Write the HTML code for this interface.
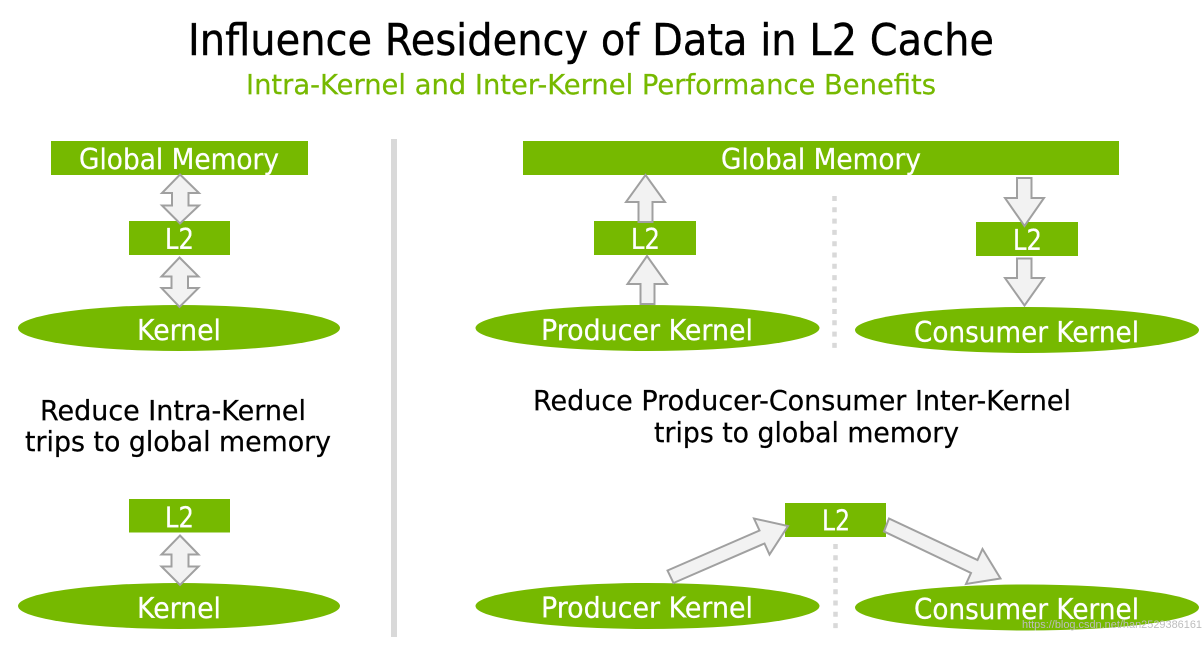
<!DOCTYPE html>
<html><head><meta charset="utf-8"><style>
html,body{margin:0;padding:0;background:#fff;width:1203px;height:650px;overflow:hidden}
svg{display:block}
text{font-family:"DejaVu Sans","Liberation Sans",sans-serif}
.w{fill:#fff;font-size:28.5px;stroke:#fff;stroke-width:.25}
.k{fill:#000;font-size:27.5px;stroke:#000;stroke-width:.25}
.a{fill:#f2f2f2;stroke:#a0a0a0;stroke-width:2;stroke-linejoin:miter}
</style></head><body>
<svg width="1203" height="650" viewBox="0 0 1203 650" xmlns="http://www.w3.org/2000/svg">
<rect width="1203" height="650" fill="#fff"/>
<text x="188" y="55" font-size="44" fill="#000" stroke="#000" stroke-width=".4" textLength="806" lengthAdjust="spacingAndGlyphs">Influence Residency of Data in L2 Cache</text>
<text x="246" y="94" font-size="28" fill="#76b900" stroke="#76b900" stroke-width=".25" textLength="690" lengthAdjust="spacingAndGlyphs">Intra-Kernel and Inter-Kernel Performance Benefits</text>

<rect x="391" y="139" width="6" height="498" fill="#d9d9d9"/>
<line x1="834.5" y1="196" x2="834.5" y2="353" stroke="#d9d9d9" stroke-width="4.5" stroke-dasharray="5 6.3"/>
<line x1="835.5" y1="544" x2="835.5" y2="629" stroke="#d9d9d9" stroke-width="4.5" stroke-dasharray="5 6.3"/>

<!-- left top -->
<rect x="51" y="141" width="257" height="34" fill="#76b900"/>
<rect x="129" y="221" width="101" height="34" fill="#76b900"/>
<ellipse cx="179" cy="328" rx="161" ry="23" fill="#76b900"/>
<polygon class="a" points="180,174.5 199,193 188.5,193 188.5,205.5 199,205.5 180,223.5 162,205.5 172,205.5 172,193 162,193"/>
<polygon class="a" points="179.5,257.5 198.5,276.5 188,276.5 188,288 198.5,288 179.5,307 161.5,288 171.5,288 171.5,276.5 161.5,276.5"/>
<text class="w" x="79" y="169" textLength="200" lengthAdjust="spacingAndGlyphs">Global Memory</text>
<text class="w" x="165" y="249" textLength="29" lengthAdjust="spacingAndGlyphs">L2</text>
<text class="w" x="137" y="340" textLength="84" lengthAdjust="spacingAndGlyphs">Kernel</text>

<text class="k" x="40" y="420" textLength="266" lengthAdjust="spacingAndGlyphs">Reduce Intra-Kernel</text>
<text class="k" x="25" y="451" textLength="306" lengthAdjust="spacingAndGlyphs">trips to global memory</text>

<!-- left bottom -->
<rect x="129" y="499" width="101" height="33.500" fill="#76b900"/>
<ellipse cx="179" cy="606" rx="161" ry="23" fill="#76b900"/>
<polygon class="a" points="180,535.500 198.500,554.500 188.500,554.500 188.500,566.500 198.500,566.500 180,585 161.500,566.500 171.500,566.500 171.500,554.500 161.500,554.500"/>
<text class="w" x="165" y="527.500" textLength="29" lengthAdjust="spacingAndGlyphs">L2</text>
<text class="w" x="137" y="618" textLength="84" lengthAdjust="spacingAndGlyphs">Kernel</text>

<!-- right top -->
<rect x="523" y="141" width="596" height="34" fill="#76b900"/>
<rect x="594" y="221" width="102" height="34" fill="#76b900"/>
<rect x="976" y="222" width="102" height="34" fill="#76b900"/>
<ellipse cx="647.500" cy="328" rx="172" ry="23" fill="#76b900"/>
<ellipse cx="1027" cy="330" rx="172" ry="23" fill="#76b900"/>
<polygon class="a" points="645.500,175 665,202 652.500,202 652.500,222 638.500,222 638.500,202 626,202"/>
<polygon class="a" points="647,256 667,284 654.500,284 654.500,304 640.500,304 640.500,284 627.500,284"/>
<polygon class="a" points="1017,178 1031.500,178 1031.500,198 1044,198 1024.500,226 1005,198 1017,198"/>
<polygon class="a" points="1017,258.500 1031.500,258.500 1031.500,278 1044,278 1024.500,305.500 1005,278 1017,278"/>
<text class="w" x="721" y="169" textLength="200" lengthAdjust="spacingAndGlyphs">Global Memory</text>
<text class="w" x="631" y="249" textLength="29" lengthAdjust="spacingAndGlyphs">L2</text>
<text class="w" x="1013" y="250" textLength="29" lengthAdjust="spacingAndGlyphs">L2</text>
<text class="w" x="541" y="340" textLength="212" lengthAdjust="spacingAndGlyphs">Producer Kernel</text>
<text class="w" x="914" y="342" textLength="225" lengthAdjust="spacingAndGlyphs">Consumer Kernel</text>

<text class="k" x="533" y="410" textLength="538" lengthAdjust="spacingAndGlyphs">Reduce Producer-Consumer Inter-Kernel</text>
<text class="k" x="654" y="442" textLength="305" lengthAdjust="spacingAndGlyphs">trips to global memory</text>

<!-- right bottom -->
<rect x="785" y="503" width="101" height="34" fill="#76b900"/>
<ellipse cx="647.500" cy="606" rx="172" ry="23" fill="#76b900"/>
<ellipse cx="1027" cy="607.500" rx="172" ry="23" fill="#76b900"/>
<polygon class="a" points="667.500,570.500 759.500,530.500 754,518.500 788,526 769.500,554.500 764.500,543.500 673.500,583"/>
<polygon class="a" points="889,518.500 977.500,560 982.500,549 1000.500,578.500 966,584 971,573 884,531.500"/>
<text class="w" x="822" y="530.500" textLength="28" lengthAdjust="spacingAndGlyphs">L2</text>
<text class="w" x="541" y="617.500" textLength="212" lengthAdjust="spacingAndGlyphs">Producer Kernel</text>
<text class="w" x="914" y="619" textLength="225" lengthAdjust="spacingAndGlyphs">Consumer Kernel</text>

<text x="1022" y="628" font-size="11" fill="#bdbdbd" style="font-family:'Liberation Sans',sans-serif" textLength="180" lengthAdjust="spacingAndGlyphs">https://blog.csdn.net/han2529386161</text>
</svg>
</body></html>
